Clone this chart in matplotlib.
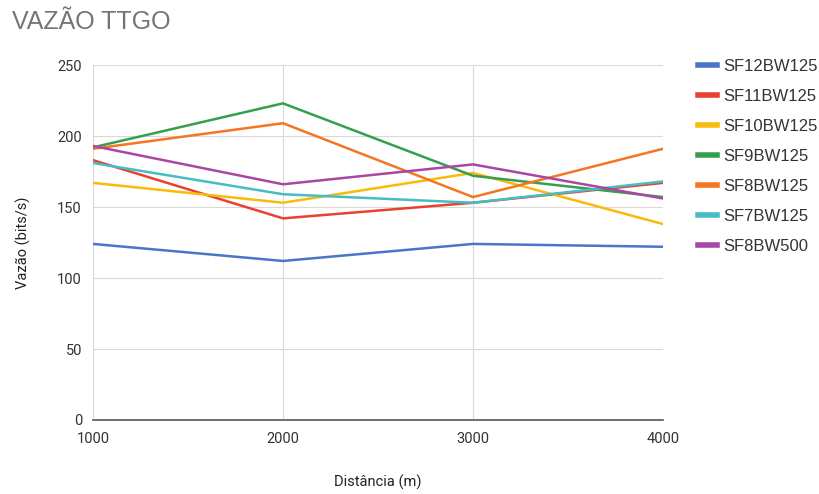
import matplotlib
matplotlib.use("Agg")
import matplotlib.pyplot as plt

# Data
distances = [1000, 2000, 3000, 4000]
series_names = ["SF12BW125", "SF11BW125", "SF10BW125", "SF9BW125",
                "SF8BW125", "SF7BW125", "SF8BW500"]
sf12_bw125 = [124, 112, 124, 122]
sf11_bw125 = [183, 142, 153, 167]
sf10_bw125 = [167, 153, 174, 138]
sf9_bw125 = [192, 223, 172, 157]
sf8_bw125 = [191, 209, 157, 191]
sf7_bw125 = [181, 159, 153, 168]
sf8_bw500 = [193, 166, 180, 156]
colors = ["#4a76c8", "#e8412f", "#f9bb0a", "#34a04f",
          "#f57622", "#47bcc4", "#aa46a4"]

all_series = [sf12_bw125, sf11_bw125, sf10_bw125, sf9_bw125,
              sf8_bw125, sf7_bw125, sf8_bw500]

fig = plt.figure(figsize=(8.2, 4.94), dpi=100)
ax = fig.add_axes([0.1134, 0.1498, 0.6951, 0.7186])

for name, vals, c in zip(series_names, all_series, colors):
    ax.plot(distances, vals, color=c, linewidth=1.8, label=name)

ax.set_xlim(1000, 4000)
ax.set_ylim(0, 250)
ax.set_xticks(distances)
ax.set_yticks([0, 50, 100, 150, 200, 250])
ax.grid(True, color="#d9d9d9", linewidth=0.8)
ax.set_axisbelow(True)
for s in ["top", "right", "left"]:
    ax.spines[s].set_visible(False)
ax.spines["bottom"].set_color("#555555")
ax.spines["bottom"].set_linewidth(1.2)
ax.tick_params(axis="x", length=0, labelsize=10.5, colors="#333333", pad=9)
ax.tick_params(axis="y", length=0, labelsize=10.5, colors="#333333", pad=8)
for lbl in ax.get_xticklabels() + ax.get_yticklabels():
    lbl.set_family("Roboto")

ax.set_xlabel("Distância (m)", fontsize=10.5, color="#222222",
              family="Roboto", labelpad=20)
ax.set_ylabel("Vazão (bits/s)", fontsize=10.5, color="#222222",
              family="Roboto", labelpad=19)

fig.text(0.015, 0.955, "VAZÃO TTGO", fontsize=18, color="#757575",
         family="Liberation Sans", va="center", ha="left")

leg = ax.legend(loc="upper left", bbox_to_anchor=(1.035, 1.06), frameon=False,
                handlelength=1.15, handletextpad=0.4,
                labelspacing=0.9, prop={"family": "Liberation Sans", "size": 12})
for line in leg.get_lines():
    line.set_linewidth(4)
for t in leg.get_texts():
    t.set_color("#333333")

fig.savefig("out.png", dpi=100)
